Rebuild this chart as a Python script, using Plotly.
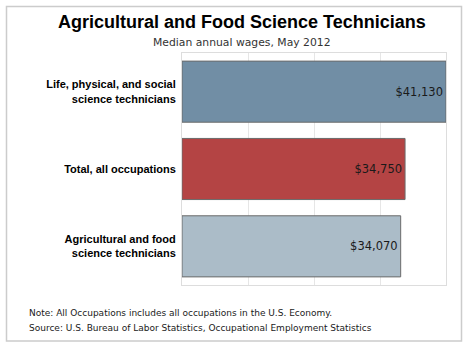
import plotly.graph_objects as go

categories = ["Life, physical, and social<br>science technicians",
              "Total, all occupations",
              "Agricultural and food<br>science technicians"]
wages = [41130, 34750, 34070]
bar_labels = ["$41,130", "$34,750", "$34,070"]
bar_colors = ["#718ea5", "#b44444", "#abbcc8"]

W, H = 469, 346
L, R, T, B = 182, 446, 53, 285

def px(x):
    return (x - L) / (R - L)

def py(y):
    return (B - y) / (B - T)

fig = go.Figure(go.Bar(
    x=wages, y=categories, orientation="h",
    marker=dict(color=bar_colors, line=dict(color="#6b6b6b", width=1)),
    text=bar_labels, textposition="inside", insidetextanchor="end",
    textfont=dict(family="DejaVu Sans", size=11.5, color="#1a1a1a"),
    hoverinfo="skip",
))

fig.update_layout(
    width=W, height=H,
    margin=dict(l=L, r=W - R, t=T, b=H - B),
    paper_bgcolor="white", plot_bgcolor="white",
    bargap=0.21, showlegend=False,
    xaxis=dict(range=[0, max(wages)], tick0=0, dtick=max(wages) / 4,
               showticklabels=False, showgrid=True, gridcolor="#e6e6e6",
               gridwidth=1, zeroline=False, showline=True, linecolor="#dddddd",
               mirror=True, fixedrange=True),
    yaxis=dict(autorange="reversed", showgrid=False, zeroline=False,
               showline=True, linecolor="#dddddd", mirror=True,
               ticks="outside", ticklen=3, tickcolor="rgba(0,0,0,0)",
               tickfont=dict(family="Liberation Sans", size=11, color="#000000",
                             weight="bold")),
    font=dict(family="Liberation Sans"),
    shapes=[dict(type="rect", xref="paper", yref="paper",
                 x0=px(6.5), x1=px(461.5), y0=py(341), y1=py(6.5),
                 line=dict(color="#cccccc", width=1.5), layer="below")],
    annotations=[
        dict(text="<b>Agricultural and Food Science Technicians</b>",
             xref="paper", yref="paper", x=px(241.5), y=py(22),
             showarrow=False, xanchor="center", yanchor="middle",
             font=dict(family="Liberation Sans", size=18, color="#000000")),
        dict(text="Median annual wages, May 2012",
             xref="paper", yref="paper", x=px(242), y=py(43),
             showarrow=False, xanchor="center", yanchor="middle",
             font=dict(family="DejaVu Sans", size=10.8, color="#333333")),
        dict(text="Note: All Occupations includes all occupations in the U.S. Economy.",
             xref="paper", yref="paper", x=px(27), y=py(313),
             showarrow=False, xanchor="left", yanchor="middle",
             font=dict(family="DejaVu Sans", size=9, color="#1a1a1a")),
        dict(text="Source: U.S. Bureau of Labor Statistics, Occupational Employment Statistics",
             xref="paper", yref="paper", x=px(27), y=py(328),
             showarrow=False, xanchor="left", yanchor="middle",
             font=dict(family="DejaVu Sans", size=9, color="#1a1a1a")),
    ],
)

fig.write_html("out.html")
